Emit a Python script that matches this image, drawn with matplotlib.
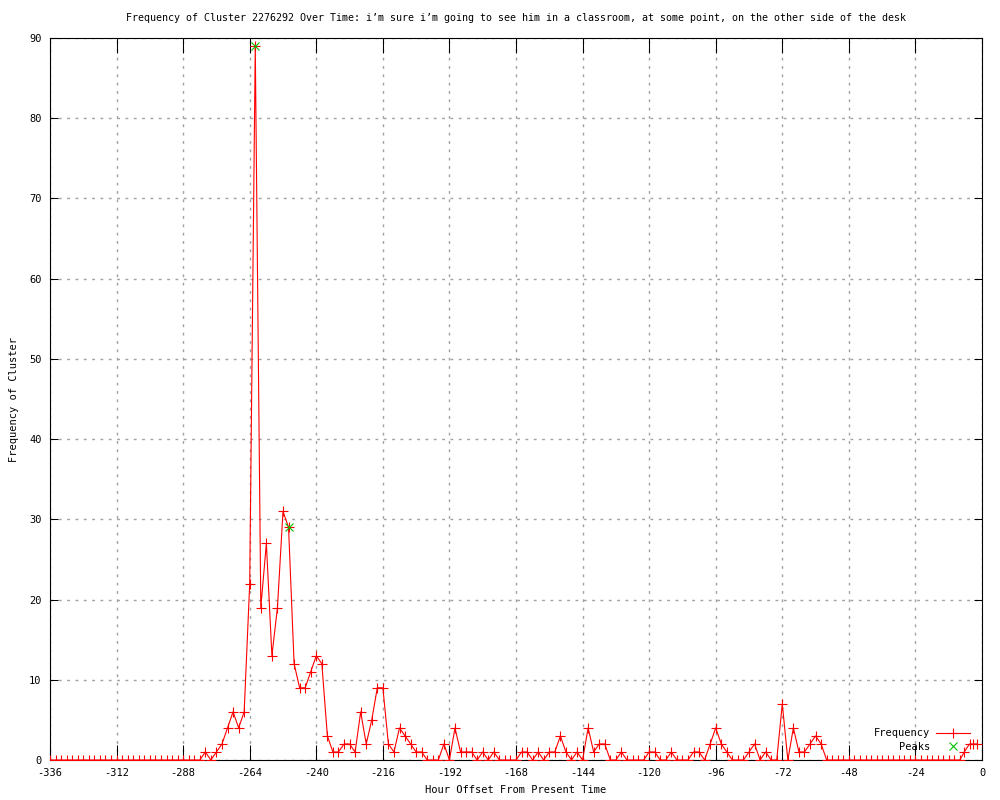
import matplotlib
matplotlib.use('Agg')
import matplotlib.pyplot as plt

plt.rcParams['font.family'] = ['DejaVu Sans Mono']
plt.rcParams['axes.unicode_minus'] = False

# hour offsets: 2-hour steps, then the last few irregular samples
hours = list(range(-336, -7, 2)) + [-6.4, -4.5, -3.1, -1.7]

counts = [0] * 28 + [
    1, 0, 1, 2, 4, 6, 4, 6, 22, 89,
    19, 27, 13, 19, 31, 29, 12, 9, 9, 11,
    13, 12, 3, 1, 1, 2, 2, 1, 6, 2,
    5, 9, 9, 2, 1, 4, 3, 2, 1, 1,
    0, 0, 0, 2, 0, 4, 1, 1, 1, 0,
    1, 0, 1, 0, 0, 0, 0, 1, 1, 0,
    1, 0, 1, 1, 3, 1, 0, 1, 0, 4,
    1, 2, 2, 0, 0, 1, 0, 0, 0, 0,
    1, 1, 0, 0, 1, 0, 0, 0, 1, 1,
    0, 2, 4, 2, 1, 0, 0, 0, 1, 2,
    0, 1, 0, 0, 7, 0, 4, 1, 1, 2,
    3, 2] + [0] * 25 + [1, 2, 2, 2]

peak_hours = [-262, -250]
peak_counts = [89, 29]

xticks = list(range(-336, 1, 24))
yticks = list(range(0, 91, 10))

title = ('Frequency of Cluster 2276292 Over Time: i\u2019m sure i\u2019m going to see him '
         'in a classroom, at some point, on the other side of the desk')

fig = plt.figure(figsize=(10, 8), dpi=100)
ax = fig.add_axes([0.05, 0.05, 0.932, 0.9025])

ax.plot(hours, counts, color='red', lw=0.8, marker='+', ms=7, mew=0.8,
        label='Frequency', zorder=3)
ax.plot(peak_hours, peak_counts, ls='none', color='#00c000', marker='x',
        ms=6, mew=0.8, label='Peaks', zorder=4)

ax.set_xlim(-336, 0)
ax.set_ylim(0, 90)
ax.set_xticks(xticks)
ax.set_yticks(yticks)
ax.grid(True, color='#a0a0a0', ls=(0, (2, 4)), lw=1)
ax.set_axisbelow(True)

ax.tick_params(axis='both', direction='in', top=True, right=True,
               labelsize=7.5, color='black', width=0.75)
ax.tick_params(axis='x', length=11, pad=6)
ax.tick_params(axis='y', length=6, pad=6)
for s in ax.spines.values():
    s.set_linewidth(0.8)
    s.set_color('black')

ax.set_title(title, fontsize=7.2, pad=12)
ax.set_xlabel('Hour Offset From Present Time', fontsize=7.5, labelpad=5)
ax.set_ylabel('Frequency of Cluster', fontsize=7.5, labelpad=7)

ax.legend(loc='lower right', bbox_to_anchor=(0.987, 0.011), frameon=False,
          markerfirst=False, fontsize=7.5, handlelength=3.3, handletextpad=0.5,
          labelspacing=0.35, borderpad=0, borderaxespad=0)

fig.savefig('out.png', dpi=100)
